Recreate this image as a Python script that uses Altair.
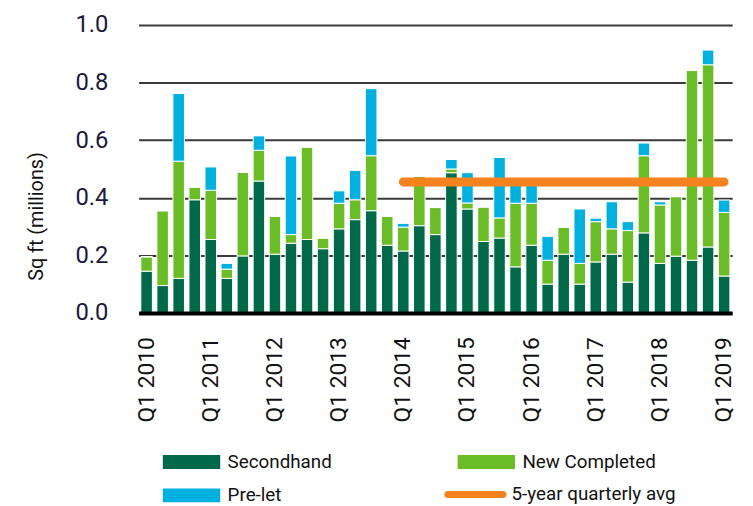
import altair as alt
import pandas as pd

quarters = [f"Q{q} {y}" for y in range(2010, 2019) for q in range(1, 5)] + ["Q1 2019"]

secondhand = [0.145, 0.095, 0.12, 0.393, 0.255, 0.12, 0.198, 0.458, 0.204, 0.242,
              0.255, 0.223, 0.292, 0.324, 0.355, 0.235, 0.215, 0.303, 0.272, 0.487,
              0.361, 0.248, 0.26, 0.16, 0.235, 0.10, 0.204, 0.10, 0.177, 0.204,
              0.107, 0.278, 0.172, 0.197, 0.183, 0.229, 0.128]
new_completed = [0.05, 0.26, 0.407, 0.044, 0.171, 0.032, 0.29, 0.107, 0.131, 0.03,
                 0.321, 0.037, 0.089, 0.069, 0.191, 0.10, 0.083, 0.172, 0.094, 0.013,
                 0.021, 0.12, 0.07, 0.221, 0.146, 0.083, 0.094, 0.072, 0.14, 0.088,
                 0.179, 0.268, 0.203, 0.207, 0.659, 0.633, 0.221]
pre_let = [0, 0, 0.235, 0, 0.081, 0.02, 0, 0.05, 0, 0.273,
           0, 0, 0.043, 0.102, 0.233, 0, 0.013, 0, 0, 0.033,
           0.105, 0, 0.21, 0.07, 0.07, 0.083, 0, 0.189, 0.012, 0.094,
           0.031, 0.044, 0.011, 0, 0, 0.051, 0.043]

avg_label = "5-year quarterly avg"
avg_value = 0.455
avg_span = ["Q1 2014", "Q1 2019"]

series = ["Secondhand", "New Completed", "Pre-let"]
colors = ["#00694A", "#6BBD28", "#00B1E0"]
orange = "#F5821F"

rows = []
for i, q in enumerate(quarters):
    for k, (name, vals) in enumerate(zip(series, [secondhand, new_completed, pre_let])):
        rows.append({"quarter": q, "series": name, "value": vals[i], "order": k})
df = pd.DataFrame(rows)
avg_df = pd.DataFrame({"quarter": avg_span, "value": [avg_value] * 2, "series": [avg_label] * 2})

FONT = "Roboto"

xscale = alt.Scale(domain=quarters, paddingInner=0.28, paddingOuter=0.14)
yscale = alt.Scale(domain=[0, 1])

bars = alt.Chart(df).mark_bar(stroke="white", strokeWidth=1).encode(
    x=alt.X("quarter:N", sort=quarters, scale=xscale,
            axis=alt.Axis(title=None, labelAngle=-90, labelAlign="right", labelBaseline="middle",
                          labelExpr="indexof(datum.label, 'Q1') == 0 ? datum.label : ''",
                          ticks=False, labelPadding=24, labelFontSize=23, labelFont=FONT,
                          labelColor="#111111", domainColor="#000000", domainWidth=4,
                          zindex=1)),
    y=alt.Y("value:Q", stack="zero", scale=yscale,
            axis=alt.Axis(title="Sq ft (millions)", values=[0, 0.2, 0.4, 0.6, 0.8, 1.0],
                          format=".1f", ticks=False, domain=False, labelPadding=31,
                          labelFontSize=24, labelFont=FONT, labelColor="#1a1a3a",
                          gridColor="#3a3a3a", gridWidth=2,
                          titleFont=FONT, titleFontSize=20, titleFontWeight="normal",
                          titleColor="#111111", titleAngle=-90, titleX=-103, titleY=193,
                          titleAlign="center", titleBaseline="middle")),
    color=alt.Color("series:N", scale=alt.Scale(domain=series, range=colors),
                    legend=alt.Legend(title=None, orient="none", legendX=44, legendY=432,
                                      direction="horizontal",
                                      columns=2, columnPadding=97, rowPadding=14,
                                      symbolType="M-4.143,-1L4.143,-1L4.143,1L-4.143,1Z",
                                      symbolSize=196, symbolStrokeWidth=0, labelOffset=27,
                                      labelFont=FONT, labelFontSize=19, labelColor="#111111",
                                      labelLimit=300, padding=0, gridAlign="all")),
    order=alt.Order("order:Q"),
)

line = alt.Chart(avg_df).mark_line(strokeWidth=9, strokeCap="round").encode(
    x=alt.X("quarter:N", sort=quarters, scale=xscale),
    y=alt.Y("value:Q", scale=yscale),
    stroke=alt.Stroke("series:N", scale=alt.Scale(domain=[avg_label], range=[orange]),
                      legend=alt.Legend(title=None, orient="none", legendX=331, legendY=465,
                                        symbolType="M-4,-0.5L4,-0.5A0.5,0.5 0 0 1 4,0.5L-4,0.5A0.5,0.5 0 0 1 -4,-0.5Z",
                                        symbolSize=196, symbolStrokeWidth=0,
                                        symbolFillColor=orange,
                                        labelOffset=27, labelFont=FONT, labelFontSize=19,
                                        labelLimit=300, labelColor="#111111", padding=0)),
)

chart = alt.layer(bars, line).properties(
    width=600, height=291,
    autosize=alt.AutoSizeParams(type="none"),
    padding={"left": 132, "top": 14.5, "right": 13, "bottom": 195},
).configure_view(stroke=None).resolve_scale(color="independent", stroke="independent")

chart.save("out.html", embed_options={"renderer": "svg", "actions": False})
